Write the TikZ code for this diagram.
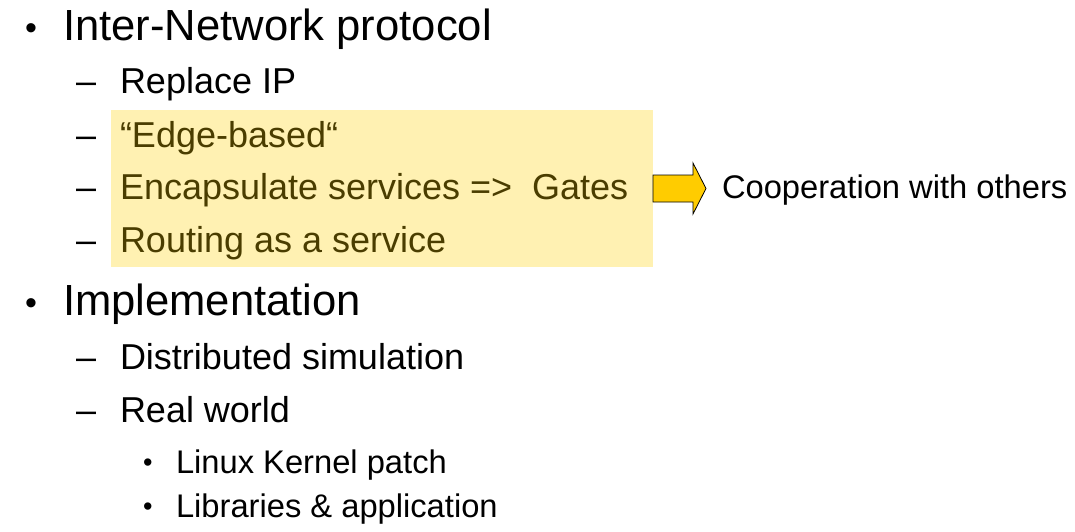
\documentclass[tikz,border=0pt]{standalone}
\usepackage{fontspec}
\setmainfont{Liberation Sans}
\definecolor{hlfill}{RGB}{255,241,178}
\definecolor{hltext}{RGB}{74,61,0}
\definecolor{arrowfill}{RGB}{255,204,0}
\begin{document}
\begin{tikzpicture}[x=1pt,y=-1pt,
  every node/.style={inner sep=0pt,outer sep=0pt,anchor=base west},
  lvlone/.style={font=\fontsize{43.6}{48}\selectfont},
  lvltwo/.style={font=\fontsize{36}{40}\selectfont},
  lvlthree/.style={font=\fontsize{32.7}{36}\selectfont},
  bulone/.style={font=\fontsize{34}{38}\selectfont},
  bulthree/.style={font=\fontsize{27}{30}\selectfont},
  boxed/.style={text=hltext}]
\useasboundingbox (0,0) rectangle (1075,532);
% highlight box
\fill[hlfill] (111,110) rectangle (653,267);
% arrow
\draw[fill=arrowfill,draw=black,line width=0.8pt,line join=miter]
  (653,175) -- (693,175) -- (693,163) -- (706,188.5) -- (693,214) -- (693,202) -- (653,202) -- cycle;
% level 1
\node[bulone] (b1) at (25,40) {•};
\node[lvlone] (t1) at (63,41) {Inter-Network protocol};
\node[bulone] (b2) at (25,314) {•};
\node[lvlone] (t2) at (63,315) {Implementation};
% level 2, first list
\node[lvltwo] (d1) at (76,94) {–};
\node[lvltwo] (s1) at (120,94) {Replace IP};
\node[lvltwo] (d2) at (76,147) {–};
\node[lvltwo,boxed] (s2) at (120,147) {“Edge-based“};
\node[lvltwo] (d3) at (76,199) {–};
\node[lvltwo,boxed] (s3) at (120,199) {Encapsulate services =>\ \ Gates};
\node[lvltwo] (d4) at (76,252) {–};
\node[lvltwo,boxed] (s4) at (120,252) {Routing as a service};
% note
\node[lvlthree] (note) at (722,198) {Cooperation with others};
% level 2, second list
\node[lvltwo] (d5) at (76,369) {–};
\node[lvltwo] (s5) at (120,369) {Distributed simulation};
\node[lvltwo] (d6) at (76,422) {–};
\node[lvltwo] (s6) at (120,422) {Real world};
% level 3
\node[bulthree] (c1) at (143,471) {•};
\node[lvlthree] (u1) at (176,473) {Linux Kernel patch};
\node[bulthree] (c2) at (143,515) {•};
\node[lvlthree] (u2) at (176,517) {Libraries \& application};
\end{tikzpicture}
\end{document}
